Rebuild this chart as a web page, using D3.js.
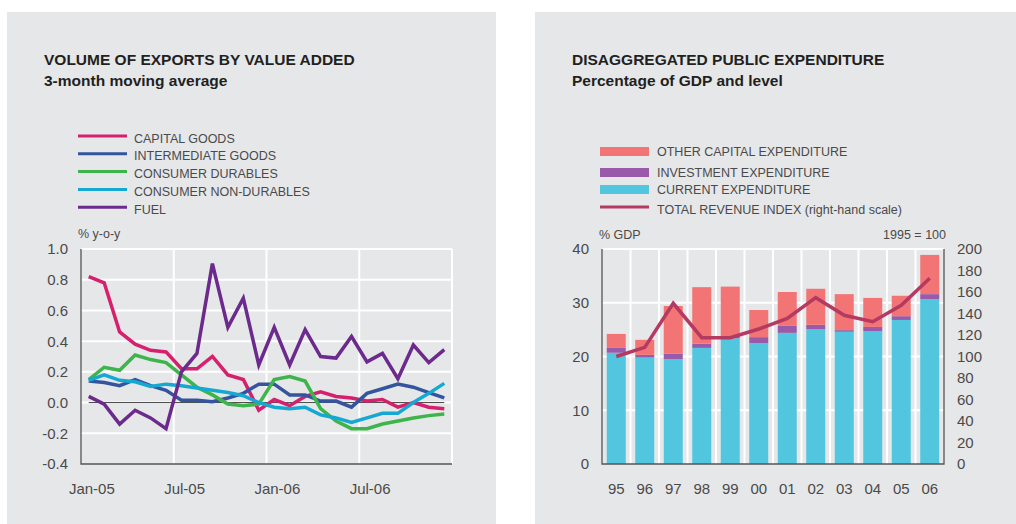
<!DOCTYPE html>
<html>
<head>
<meta charset="utf-8">
<script src="https://cdn.jsdelivr.net/npm/d3@7/dist/d3.min.js"></script>
<style>
  body { margin: 0; background: #fff; }
  svg { display: block; font-family: "Liberation Sans", Arial, sans-serif; }
  .title { font-size: 15.5px; font-weight: bold; fill: #231f20; }
  .legend-text { font-size: 12.5px; fill: #4a4a4a; }
  .tick-text { font-size: 15px; fill: #4a4a4a; }
  .unit-text { font-size: 12.5px; fill: #4a4a4a; }
</style>
</head>
<body>
<div id="chart"></div>
<script>
// ---- left chart data: monthly, Jan-05 .. Dec-06
const months = ["Jan-05","Feb-05","Mar-05","Apr-05","May-05","Jun-05","Jul-05","Aug-05","Sep-05","Oct-05","Nov-05","Dec-05",
                "Jan-06","Feb-06","Mar-06","Apr-06","May-06","Jun-06","Jul-06","Aug-06","Sep-06","Oct-06","Nov-06","Dec-06"];
const monthTicks = ["Jan-05", "Jul-05", "Jan-06", "Jul-06"];
const capitalGoods = [0.82, 0.78, 0.46, 0.38, 0.34, 0.33, 0.22, 0.22, 0.30, 0.18, 0.15, -0.05,
                      0.02, -0.02, 0.04, 0.07, 0.04, 0.03, 0.01, 0.02, -0.03, 0.00, -0.03, -0.04];
const intermediateGoods = [0.14, 0.13, 0.11, 0.15, 0.11, 0.08, 0.015, 0.015, 0.005, 0.03, 0.06, 0.12,
                           0.12, 0.05, 0.05, 0.01, 0.01, -0.03, 0.06, 0.09, 0.12, 0.10, 0.065, 0.03];
const consumerDurables = [0.15, 0.23, 0.21, 0.31, 0.28, 0.26, 0.18, 0.10, 0.05, -0.01, -0.02, -0.01,
                          0.15, 0.17, 0.14, -0.04, -0.12, -0.17, -0.17, -0.14, -0.12, -0.10, -0.085, -0.075];
const consumerNonDurables = [0.145, 0.18, 0.145, 0.135, 0.105, 0.12, 0.11, 0.095, 0.08, 0.065, 0.045, 0.0,
                             -0.03, -0.04, -0.03, -0.08, -0.10, -0.13, -0.10, -0.07, -0.07, 0.0, 0.06, 0.125];
const fuel = [0.04, -0.01, -0.14, -0.05, -0.10, -0.17, 0.20, 0.32, 0.905, 0.49, 0.68, 0.245,
              0.49, 0.245, 0.475, 0.30, 0.29, 0.43, 0.265, 0.32, 0.155, 0.375, 0.26, 0.345];
const leftTicks = [-0.4, -0.2, 0.0, 0.2, 0.4, 0.6, 0.8, 1.0];

// ---- right chart data: yearly
const years = ["95","96","97","98","99","00","01","02","03","04","05","06"];
const currentExp    = [20.7, 19.8, 19.5, 21.6, 23.4, 22.5, 24.4, 25.1, 24.6, 24.7, 26.8, 30.7];
const investmentExp = [0.9, 0.5, 1.0, 0.8, 0.4, 1.1, 1.3, 0.8, 0.3, 0.8, 0.7, 0.9];
const otherCapExp   = [2.6, 2.8, 8.9, 10.5, 9.2, 5.05, 6.3, 6.7, 6.7, 5.4, 3.8, 7.3];
const revenueIndex  = [100, 108.5, 149.5, 117.5, 117.5, 125.6, 135.5, 154.7, 138.3, 132.4, 147.6, 172.7];
const gdpTicks = [0, 10, 20, 30, 40];
const indexTicks = [0, 20, 40, 60, 80, 100, 120, 140, 160, 180, 200];

const W = 1016, H = 524;
const svg = d3.select("#chart").append("svg")
    .attr("width", W)
    .attr("height", H);

const panelColor = "#e6e7e9";
svg.append("rect").attr("x", 7).attr("y", 12).attr("width", 489).attr("height", H - 12).attr("fill", panelColor);
svg.append("rect").attr("x", 535).attr("y", 12).attr("width", W - 535).attr("height", H - 12).attr("fill", panelColor);

renderExportsChart();
renderExpenditureChart();

function renderExportsChart(){
    const g = svg.append("g").classed("exports", true);
    const plot = {left: 81, right: 452, top: 249, bottom: 464};

    g.append("text").attr("class", "title").attr("x", 44).attr("y", 65).text("VOLUME OF EXPORTS BY VALUE ADDED");
    g.append("text").attr("class", "title").attr("x", 44).attr("y", 86).text("3-month moving average");

    const series = [
        {name: "CAPITAL GOODS", color: "#d6206e", values: capitalGoods},
        {name: "INTERMEDIATE GOODS", color: "#34559e", values: intermediateGoods},
        {name: "CONSUMER DURABLES", color: "#3db54a", values: consumerDurables},
        {name: "CONSUMER NON-DURABLES", color: "#15a8d2", values: consumerNonDurables},
        {name: "FUEL", color: "#6b2a8c", values: fuel}
    ];

    // legend
    const legend = g.append("g").attr("transform", "translate(78, 136)");
    series.forEach((s, i) => {
        legend.append("line")
            .attr("x1", 0).attr("x2", 49)
            .attr("y1", i * 17.8).attr("y2", i * 17.8)
            .attr("stroke", s.color).attr("stroke-width", 3);
        legend.append("text").attr("class", "legend-text")
            .attr("x", 56).attr("y", i * 17.8 + 6.5)
            .text(s.name);
    });

    const x = d3.scaleLinear().domain([0, months.length]).range([plot.left, plot.right]);
    const y = d3.scaleLinear().domain([-0.4, 1.0]).range([plot.bottom, plot.top]);

    // gridlines
    g.append("g").selectAll("line.h")
        .data(leftTicks.filter(t => t > -0.4))
        .enter().append("line")
            .attr("x1", plot.left).attr("x2", plot.right)
            .attr("y1", d => y(d)).attr("y2", d => y(d))
            .attr("stroke", "#fff").attr("stroke-width", 2);
    g.append("g").selectAll("line.v")
        .data([6, 12, 18, 24])
        .enter().append("line")
            .attr("x1", d => x(d)).attr("x2", d => x(d))
            .attr("y1", plot.top).attr("y2", plot.bottom)
            .attr("stroke", "#fff").attr("stroke-width", 2);

    // zero line across the data range
    g.append("line")
        .attr("x1", x(0.5)).attr("x2", x(months.length - 0.5))
        .attr("y1", y(0)).attr("y2", y(0))
        .attr("stroke", "#444").attr("stroke-width", 1);

    // axes
    g.append("path")
        .attr("d", `M${plot.left},${plot.top}V${plot.bottom}H${plot.right}`)
        .attr("fill", "none").attr("stroke", "#555").attr("stroke-width", 1.3);

    g.append("g").selectAll("text")
        .data(leftTicks)
        .enter().append("text")
            .attr("class", "tick-text")
            .attr("x", 68).attr("y", d => y(d)).attr("dy", "0.36em")
            .attr("text-anchor", "end")
            .text(d => d3.format(".1f")(d).replace("\u2212", "-"));

    g.append("g").selectAll("text")
        .data(monthTicks)
        .enter().append("text")
            .attr("class", "tick-text")
            .attr("x", d => x(months.indexOf(d) + 0.7)).attr("y", 494)
            .attr("text-anchor", "middle")
            .text(d => d);

    g.append("text").attr("class", "unit-text").attr("x", 78).attr("y", 238).text("% y-o-y");

    const line = d3.line()
        .x((d, i) => x(i + 0.5))
        .y(d => y(d));

    g.append("g").selectAll("path")
        .data(series)
        .enter().append("path")
            .attr("d", d => line(d.values))
            .attr("fill", "none")
            .attr("stroke", d => d.color)
            .attr("stroke-width", 3.5)
            .attr("stroke-linejoin", "miter");
}

function renderExpenditureChart(){
    const g = svg.append("g").classed("expenditure", true);
    const plot = {left: 602, right: 944, top: 249, bottom: 464};

    g.append("text").attr("class", "title").attr("x", 572).attr("y", 65).text("DISAGGREGATED PUBLIC EXPENDITURE");
    g.append("text").attr("class", "title").attr("x", 572).attr("y", 86).text("Percentage of GDP and level");

    const colors = {
        other: "#f27474",
        investment: "#985aa9",
        current: "#52c5df",
        revenue: "#b43a62"
    };

    // legend
    const legendItems = [
        {name: "OTHER CAPITAL EXPENDITURE", color: colors.other, y: 147, type: "rect"},
        {name: "INVESTMENT EXPENDITURE", color: colors.investment, y: 168, type: "rect"},
        {name: "CURRENT EXPENDITURE", color: colors.current, y: 185, type: "rect"},
        {name: "TOTAL REVENUE INDEX (right-hand scale)", color: colors.revenue, y: 205.5, type: "line"}
    ];
    legendItems.forEach(item => {
        if(item.type === "rect"){
            g.append("rect").attr("x", 600).attr("y", item.y).attr("width", 49).attr("height", 9).attr("fill", item.color);
        }
        else{
            g.append("rect").attr("x", 600).attr("y", item.y).attr("width", 49).attr("height", 3).attr("fill", item.color);
        }
        g.append("text").attr("class", "legend-text")
            .attr("x", 657).attr("y", item.type === "rect" ? item.y + 9 : item.y + 8.5)
            .text(item.name);
    });

    const x = d3.scaleBand()
        .domain(years)
        .range([plot.left, plot.right])
        .paddingInner(1 / 3)
        .paddingOuter(1 / 6);
    const yL = d3.scaleLinear().domain([0, 40]).range([plot.bottom, plot.top]);
    const yR = d3.scaleLinear().domain([0, 200]).range([plot.bottom, plot.top]);

    // gridlines
    g.append("g").selectAll("line")
        .data(gdpTicks.filter(t => t > 0))
        .enter().append("line")
            .attr("x1", plot.left).attr("x2", plot.right)
            .attr("y1", d => yL(d)).attr("y2", d => yL(d))
            .attr("stroke", "#fff").attr("stroke-width", 2);
    g.append("g").selectAll("line")
        .data(years.slice(0, -1))
        .enter().append("line")
            .attr("x1", d => x(d) + x.bandwidth() + (x.step() - x.bandwidth()) / 2)
            .attr("x2", d => x(d) + x.bandwidth() + (x.step() - x.bandwidth()) / 2)
            .attr("y1", plot.top).attr("y2", plot.bottom)
            .attr("stroke", "#fff").attr("stroke-width", 2);

    // stacked bars
    const table = years.map((yr, i) => ({
        year: yr,
        current: currentExp[i],
        investment: investmentExp[i],
        other: otherCapExp[i]
    }));
    const stack = d3.stack().keys(["current", "investment", "other"])(table);

    g.append("g").selectAll("g")
        .data(stack)
        .enter().append("g")
            .attr("fill", d => colors[d.key])
        .selectAll("rect")
        .data(d => d)
        .enter().append("rect")
            .attr("x", d => x(d.data.year))
            .attr("width", x.bandwidth())
            .attr("y", d => yL(d[1]))
            .attr("height", d => yL(d[0]) - yL(d[1]));

    // axes
    g.append("path")
        .attr("d", `M${plot.left},${plot.top}V${plot.bottom}H${plot.right}V${plot.top}`)
        .attr("fill", "none").attr("stroke", "#555").attr("stroke-width", 1.3);

    g.append("g").selectAll("text")
        .data(gdpTicks)
        .enter().append("text")
            .attr("class", "tick-text")
            .attr("x", 589).attr("y", d => yL(d)).attr("dy", "0.36em")
            .attr("text-anchor", "end")
            .text(d => d);

    g.append("g").selectAll("text")
        .data(indexTicks)
        .enter().append("text")
            .attr("class", "tick-text")
            .attr("x", 957).attr("y", d => yR(d)).attr("dy", "0.36em")
            .text(d => d);

    g.append("g").selectAll("text")
        .data(years)
        .enter().append("text")
            .attr("class", "tick-text")
            .attr("x", d => x(d) + x.bandwidth() / 2).attr("y", 494)
            .attr("text-anchor", "middle")
            .text(d => d);

    g.append("text").attr("class", "unit-text").attr("x", 599).attr("y", 239).text("% GDP");
    g.append("text").attr("class", "unit-text").attr("x", 946).attr("y", 239)
        .attr("text-anchor", "end").text("1995 = 100");

    // revenue index line
    const line = d3.line()
        .x((d, i) => x(years[i]) + x.bandwidth() / 2)
        .y(d => yR(d));

    g.append("path")
        .attr("d", line(revenueIndex))
        .attr("fill", "none")
        .attr("stroke", colors.revenue)
        .attr("stroke-width", 3.5);
}
</script>
</body>
</html>
